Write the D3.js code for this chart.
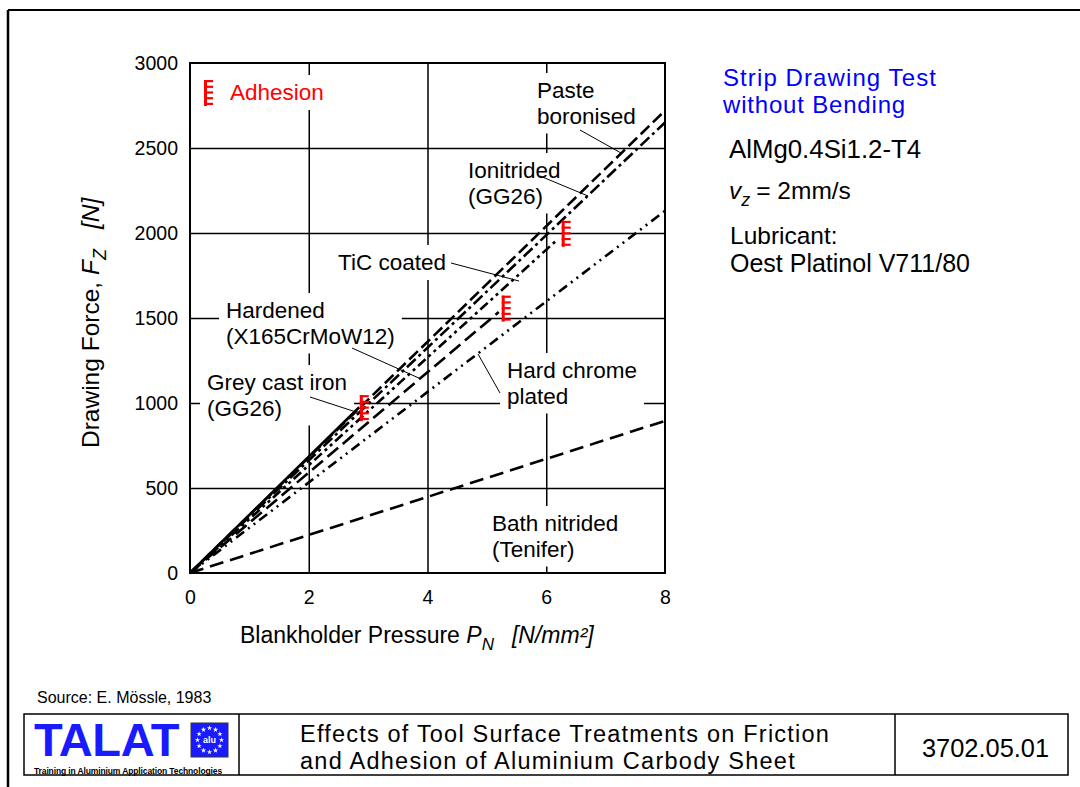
<!DOCTYPE html>
<html>
<head>
<meta charset="utf-8">
<script src="https://cdn.jsdelivr.net/npm/d3@7"></script>
<style>
  body { margin: 0; background: #fff; }
  svg { display: block; font-family: "Liberation Sans", Arial, sans-serif; }
</style>
</head>
<body>
<svg id="chart" width="1080" height="787"></svg>
<script>
// surface treatments, each line runs from the origin to where adhesion starts
const materials = ["Paste boronised", "Ionitrided (GG26)", "TiC coated", "Hardened (X165CrMoW12)",
                   "Hard chrome plated", "Grey cast iron (GG26)", "Bath nitrided (Tenifer)"];
const endPressure = [8, 8, 6.2, 5.2, 8, 2.85, 8];
const endForce = [2720, 2650, 1965, 1535, 2130, 975, 895];

// adhesion onset marks
const adhesionPressure = [2.86, 5.25, 6.26];
const adhesionForce = [970, 1555, 1995];

const xTicks = [0, 2, 4, 6, 8];
const yTicks = [0, 500, 1000, 1500, 2000, 2500, 3000];

const dashStyle = {
  "Paste boronised": "12,5",
  "Ionitrided (GG26)": "12,4,3,4",
  "TiC coated": "10,4,3,4,3,4",
  "Hardened (X165CrMoW12)": "14,6",
  "Hard chrome plated": "10,5,2,5,2,5",
  "Grey cast iron (GG26)": null,
  "Bath nitrided (Tenifer)": "14,7"
};

const svg = d3.select("#chart");
const pLeft = 190, pRight = 665, pTop = 63, pBottom = 573;

const x = d3.scaleLinear().domain([0, 8]).range([pLeft, pRight]);
const y = d3.scaleLinear().domain([0, 3000]).range([pBottom, pTop]);

// page frame
svg.append("line").attr("x1", 8).attr("y1", 10).attr("x2", 1080).attr("y2", 10).attr("stroke", "#000").attr("stroke-width", 2);
svg.append("line").attr("x1", 8).attr("y1", 10).attr("x2", 8).attr("y2", 787).attr("stroke", "#000").attr("stroke-width", 2.5);

const gridLayer = svg.append("g");
const boxLayer = svg.append("g");
const lineLayer = svg.append("g");
const textLayer = svg.append("g");

// grid
gridLayer.append("g")
  .attr("transform", `translate(0,${pBottom})`)
  .call(d3.axisBottom(x).tickValues(xTicks.slice(1, -1)).tickSize(-(pBottom - pTop)).tickFormat(""))
  .call(g => g.select(".domain").remove())
  .selectAll("line").attr("stroke", "#000").attr("stroke-width", 1.5);
gridLayer.append("g")
  .attr("transform", `translate(${pLeft},0)`)
  .call(d3.axisLeft(y).tickValues(yTicks.slice(1, -1)).tickSize(-(pRight - pLeft)).tickFormat(""))
  .call(g => g.select(".domain").remove())
  .selectAll("line").attr("stroke", "#000").attr("stroke-width", 1.5);

// tick labels
const xAxis = svg.append("g")
  .attr("transform", `translate(0,${pBottom})`)
  .call(d3.axisBottom(x).tickValues(xTicks).tickSize(0).tickPadding(17).tickFormat(d3.format("d")));
xAxis.select(".domain").remove();
xAxis.selectAll("text").attr("font-size", 19.5).attr("font-family", "Liberation Sans, Arial, sans-serif").attr("fill", "#000");

const yAxis = svg.append("g")
  .attr("transform", `translate(${pLeft},0)`)
  .call(d3.axisLeft(y).tickValues(yTicks).tickSize(0).tickPadding(12).tickFormat(d3.format("d")));
yAxis.select(".domain").remove();
yAxis.selectAll("text").attr("font-size", 19.5).attr("font-family", "Liberation Sans, Arial, sans-serif").attr("fill", "#000");

// labels with white boxes that cut the grid
function label(px, py, lines, opts = {}) {
  const size = opts.size || 22.5;
  const lh = opts.lh || 25.5;
  const t = textLayer.append("text")
    .attr("x", px).attr("y", py)
    .attr("font-size", size)
    .attr("fill", opts.color || "#000");
  lines.forEach((s, i) => t.append("tspan").attr("x", px).attr("dy", i ? lh : 0).text(s));
  const b = t.node().getBBox();
  boxLayer.append("rect")
    .attr("x", b.x - 7).attr("y", b.y - 5)
    .attr("width", b.width + 14).attr("height", b.height + 10)
    .attr("fill", "#fff");
  return t;
}

function leader(x1, y1, x2, y2) {
  textLayer.append("line")
    .attr("x1", x1).attr("y1", y1).attr("x2", x2).attr("y2", y2)
    .attr("stroke", "#000").attr("stroke-width", 1);
}

label(537, 98, ["Paste", "boronised"]);
leader(580, 130, 621, 153);
label(468, 178, ["Ionitrided", "(GG26)"]);
leader(540, 176, 588, 196);
label(338, 270, ["TiC coated"]);
leader(451, 263, 519, 281);
label(226, 318, ["Hardened", "(X165CrMoW12)"]);
leader(352, 348, 421, 379);
label(207, 390, ["Grey cast iron", "(GG26)"]);
leader(310, 397, 356, 412);
label(507, 378, ["Hard chrome", "plated"]);
leader(500, 393, 478, 354);
label(492, 531, ["Bath nitrided", "(Tenifer)"]);
label(230, 100, ["Adhesion"], { color: "#ff0000" });

// data lines
const line = d3.line().x(d => x(d[0])).y(d => y(d[1]));
lineLayer.selectAll("path.treat")
  .data(materials.map((m, i) => ({ name: m, pts: [[0, 0], [endPressure[i], endForce[i]]] })))
  .join("path")
  .attr("class", "treat")
  .attr("d", d => line(d.pts))
  .attr("fill", "none")
  .attr("stroke", "#000")
  .attr("stroke-width", 2.6)
  .attr("stroke-dasharray", d => dashStyle[d.name]);

// adhesion marker: red bar with comb teeth
function marker(g, px, py) {
  const h = 26, w = 9;
  const m = g.append("g").attr("transform", `translate(${px},${py - h / 2})`).attr("fill", "#ff0000");
  m.append("rect").attr("x", 0).attr("y", 0).attr("width", 3).attr("height", h);
  for (let k = 0; k < 5; k++) {
    m.append("rect").attr("x", 0).attr("y", k * 5.7).attr("width", w).attr("height", 2.2);
  }
}
adhesionPressure.forEach((p, i) => marker(lineLayer, x(p), y(adhesionForce[i])));
marker(textLayer, 204, 93);

// plot frame
svg.append("rect").attr("x", pLeft).attr("y", pTop).attr("width", pRight - pLeft).attr("height", pBottom - pTop)
  .attr("fill", "none").attr("stroke", "#000").attr("stroke-width", 2);

// axis titles
const xt = svg.append("text").attr("x", 240).attr("y", 643).attr("font-size", 23);
xt.append("tspan").text("Blankholder Pressure ");
xt.append("tspan").attr("font-style", "italic").text("P");
xt.append("tspan").attr("font-style", "italic").attr("font-size", 17).attr("dy", 7).text("N");
xt.append("tspan").attr("font-style", "italic").attr("dy", -7).attr("dx", 18).text("[N/mm²]");

const yt = svg.append("text").attr("transform", "translate(99,448) rotate(-90)").attr("font-size", 24.5);
yt.append("tspan").text("Drawing Force, ");
yt.append("tspan").attr("font-style", "italic").text("F");
yt.append("tspan").attr("font-style", "italic").attr("font-size", 18).attr("dy", 7).text("Z");
yt.append("tspan").attr("font-style", "italic").attr("dy", -7).attr("dx", 20).text("[N]");

function fitWidth(ts, w) {
  const n = ts.text().length;
  const cur = ts.node().getComputedTextLength();
  ts.attr("letter-spacing", (w - cur) / n);
}

// right-hand notes
const note = svg.append("g");
const strip = note.append("text").attr("font-size", 24).attr("fill", "#0000ff");
const s1 = strip.append("tspan").attr("x", 723).attr("y", 86).text("Strip Drawing Test");
const s2 = strip.append("tspan").attr("x", 723).attr("y", 113).text("without Bending");
fitWidth(s1, 214);
fitWidth(s2, 183);
note.append("text").attr("x", 729).attr("y", 158).attr("font-size", 25.8).text("AlMg0.4Si1.2-T4");
const vz = note.append("text").attr("x", 729).attr("y", 199).attr("font-size", 24.5);
vz.append("tspan").attr("font-style", "italic").text("v");
vz.append("tspan").attr("font-style", "italic").attr("font-size", 18).attr("dy", 7).text("z");
vz.append("tspan").attr("dy", -7).attr("dx", 6).text("= 2mm/s");
note.append("text").attr("x", 730).attr("y", 244).attr("font-size", 24.5).text("Lubricant:");
note.append("text").attr("x", 730).attr("y", 272).attr("font-size", 25).text("Oest Platinol V711/80");

// footer
svg.append("text").attr("x", 37).attr("y", 703).attr("font-size", 16).text("Source: E. Mössle, 1983");
const foot = svg.append("g").attr("stroke", "#000").attr("stroke-width", 1.5);
foot.append("rect").attr("x", 24).attr("y", 714).attr("width", 1044).attr("height", 61).attr("fill", "none");
foot.append("line").attr("x1", 239).attr("y1", 714).attr("x2", 239).attr("y2", 775);
foot.append("line").attr("x1", 895).attr("y1", 714).attr("x2", 895).attr("y2", 775);

// logo
const logo = svg.append("text").attr("font-weight", "bold");
const talat = logo.append("tspan").attr("x", 34).attr("y", 756).attr("font-size", 47).attr("fill", "#1a1aff").text("TALAT");
const sub = logo.append("tspan").attr("x", 34).attr("y", 774).attr("font-size", 8.5).attr("fill", "#000")
  .text("Training in Aluminium Application Technologies");
fitWidth(talat, 145);
fitWidth(sub, 188);

const flag = svg.append("g").attr("transform", "translate(191,723)");
flag.append("rect").attr("width", 37).attr("height", 34).attr("fill", "#1a1aff").attr("stroke", "#333").attr("stroke-width", 1);
const star = d3.symbol().type(d3.symbolStar).size(9);
d3.range(12).forEach(k => {
  const a = k / 12 * 2 * Math.PI;
  flag.append("path").attr("d", star()).attr("fill", "#fff")
    .attr("transform", `translate(${18.5 + 12 * Math.sin(a)},${17 - 12 * Math.cos(a)})`);
});
flag.append("text").attr("x", 18.5).attr("y", 20).attr("text-anchor", "middle").attr("font-size", 9)
  .attr("font-weight", "bold").attr("fill", "#fff").text("alu");

const title = svg.append("text").attr("font-size", 23.5);
const t1 = title.append("tspan").attr("x", 300).attr("y", 742).text("Effects of Tool Surface Treatments on Friction");
const t2 = title.append("tspan").attr("x", 300).attr("y", 768.5).text("and Adhesion of Aluminium Carbody Sheet");
fitWidth(t1, 530);
fitWidth(t2, 496);
svg.append("text").attr("x", 922).attr("y", 757).attr("font-size", 25.4).text("3702.05.01");
</script>
</body>
</html>
